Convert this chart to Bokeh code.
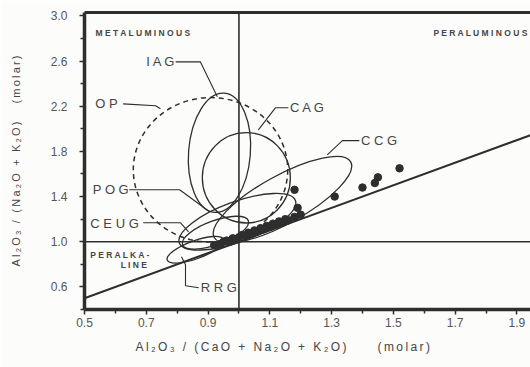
from bokeh.plotting import figure
from bokeh.models import (ColumnDataSource, FixedTicker, LinearAxis, Span, Title,
                          PrintfTickFormatter)
from bokeh.core.properties import value
from bokeh.embed import file_html
from bokeh.resources import INLINE

# ---------------- data ----------------
x_ticks = [0.5, 0.7, 0.9, 1.1, 1.3, 1.5, 1.7, 1.9]
x_minor = [0.6, 0.8, 1.0, 1.2, 1.4, 1.6, 1.8, 2.0]
y_ticks = [0.6, 1.0, 1.4, 1.8, 2.2, 2.6, 3.0]
y_minor = [0.4, 0.8, 1.2, 1.6, 2.0, 2.4, 2.8]

# A/NK = A/CNK boundary (peralkaline limit)
boundary_x = [0.5, 2.0]
boundary_y = [0.5, 2.0]

# granitoid fields (ellipses): centre, extent in data units, tilt (rad)
field_names = ["OP", "IAG", "CAG", "CCG", "POG", "CEUG", "RRG"]
field_x = [0.908, 0.937, 1.024, 1.141, 0.995, 0.924, 0.859]
field_y = [1.637, 1.788, 1.566, 1.372, 1.177, 1.080, 0.929]
field_w = [0.50, 0.20, 0.285, 0.505, 0.40, 0.227, 0.194]
field_h = [1.28, 1.06, 0.80, 0.425, 0.354, 0.212, 0.16]
field_angle = [0.0, -0.08, 0.0, 0.506, 0.35, 0.35, 0.35]

# sample points
a_cnk = [0.92, 0.94, 0.95, 0.96, 0.97, 0.98, 0.99, 1.00, 1.01, 1.02, 1.03, 1.04,
         1.05, 1.06, 1.07, 1.08, 1.09, 1.10, 1.11, 1.12, 1.13, 1.14, 1.15, 1.16,
         1.18, 1.20, 1.18, 1.19, 1.31, 1.40, 1.44, 1.45, 1.52]
a_nk = [0.97, 0.98, 1.00, 1.01, 1.00, 1.03, 1.02, 1.04, 1.06, 1.05, 1.08, 1.07,
        1.10, 1.09, 1.12, 1.11, 1.14, 1.13, 1.16, 1.15, 1.18, 1.17, 1.20, 1.19,
        1.22, 1.24, 1.46, 1.30, 1.40, 1.48, 1.52, 1.57, 1.65]

# field labels and their leader lines
label_text = ["I A G", "O P", "C A G", "C C G", "P O G", "C E U G", "R R G"]
label_x = [0.70, 0.535, 1.165, 1.395, 0.527, 0.519, 0.876]
label_y = [2.593, 2.221, 2.186, 1.895, 1.460, 1.160, 0.593]
leader_xs = [[0.795, 0.875, 0.930], [0.625, 0.730, 0.746], [1.160, 1.118, 1.063],
             [1.390, 1.335, 1.286], [0.645, 0.808, 0.905], [0.690, 0.811, 0.837],
             [0.870, 0.827, 0.827, 0.814]]
leader_ys = [[2.593, 2.593, 2.283], [2.221, 2.204, 2.177], [2.186, 2.186, 1.991],
             [1.895, 1.895, 1.770], [1.460, 1.460, 1.265], [1.168, 1.168, 1.088],
             [0.593, 0.610, 0.796, 0.867]]

x_title = "Al₂O₃ / (CaO + Na₂O + K₂O)\u00a0\u00a0\u00a0\u00a0\u00a0(molar)"
y_title = "Al₂O₃ / (Na₂O + K₂O)\u00a0\u00a0\u00a0(molar)"


def spaced(s, sep="\u2009"):
    return sep.join(s)


INK = "#2e2e2e"
TXT = "#454545"
FONT = "Liberation Sans"

p = figure(width=530, height=367, x_range=(0.5, 1.944), y_range=(0.4, 3.03),
           output_backend="svg", toolbar_location=None,
           min_border_left=84, min_border_right=0, min_border_top=12,
           min_border_bottom=58)
p.background_fill_color = "#fcfcfa"
p.border_fill_color = "#fcfcfa"
p.outline_line_color = None
p.xgrid.visible = False
p.ygrid.visible = False

for ax, ticks, minor in ((p.xaxis[0], x_ticks, x_minor), (p.yaxis[0], y_ticks, y_minor)):
    ax.ticker = FixedTicker(ticks=ticks, minor_ticks=minor)
    ax.formatter = PrintfTickFormatter(format="%.1f")
    ax.axis_line_color = INK
    ax.axis_line_width = 3.5
    ax.major_tick_line_color = INK
    ax.major_tick_line_width = 1.5
    ax.minor_tick_line_color = INK
    ax.minor_tick_line_width = 1.5
    ax.major_tick_in = 0
    ax.major_tick_out = 5
    ax.minor_tick_in = 0
    ax.minor_tick_out = 4
    ax.major_label_text_font = FONT
    ax.major_label_text_font_size = "12px"
    ax.major_label_text_color = "#555555"
p.xaxis[0].major_label_standoff = 3
p.yaxis[0].major_label_standoff = 12

p.yaxis[0].axis_label = spaced(y_title)
p.yaxis[0].axis_label_text_font = FONT
p.yaxis[0].axis_label_text_font_size = "11px"
p.yaxis[0].axis_label_text_font_style = "normal"
p.yaxis[0].axis_label_text_color = TXT
p.yaxis[0].axis_label_standoff = 26

p.add_layout(Title(text=spaced(x_title), align="left", offset=51, text_font=FONT,
                   text_font_size="12px", text_font_style="normal", text_color=TXT,
                   standoff=17), "below")

top = LinearAxis(ticker=FixedTicker(ticks=[]), axis_line_color=INK, axis_line_width=3,
                 major_tick_out=0, major_tick_in=0, minor_tick_out=0, minor_tick_in=0,
                 major_label_text_font_size="0px")
p.add_layout(top, "above")

# reference lines
p.add_layout(Span(location=1.0, dimension="height", line_color=INK, line_width=1.6))
p.add_layout(Span(location=1.0, dimension="width", line_color=INK, line_width=1.6))
p.line(boundary_x, boundary_y, line_color=INK, line_width=2)

# fields
solid = ColumnDataSource(dict(x=field_x[1:], y=field_y[1:], w=field_w[1:],
                              h=field_h[1:], a=field_angle[1:]))
p.ellipse(x=field_x[0], y=field_y[0], width=field_w[0], height=field_h[0],
          angle=field_angle[0], fill_color=None, line_color=INK, line_width=1.5,
          line_dash="5 4")
p.ellipse(x="x", y="y", width="w", height="h", angle="a", source=solid,
          fill_color=None, line_color=INK, line_width=1.3)

# points
p.scatter(a_cnk, a_nk, size=7.5, fill_color=INK, line_color=INK)

# leaders and labels
p.multi_line(leader_xs, leader_ys, line_color=INK, line_width=1.1)
p.text(x=label_x, y=label_y, text=label_text, text_font=value(FONT),
       text_font_size="13px", text_color=TXT, text_baseline="middle", text_align="left")

p.text(x=[0.536], y=[2.85], text=["M E T A L U M I N O U S"], text_font=value(FONT),
       text_font_size="8.5px", text_font_style="bold", text_color=TXT,
       text_baseline="middle")
p.text(x=[1.937], y=[2.85], text=["P E R A L U M I N O U S"], text_font=value(FONT),
       text_font_size="8.5px", text_font_style="bold", text_color=TXT,
       text_baseline="middle", text_align="right")
p.text(x=[0.519, 0.617], y=[0.885, 0.790], text=["P E R A L K A -", "L I N E"],
       text_font=value(FONT), text_font_size="8.5px", text_font_style="bold",
       text_color=TXT, text_baseline="middle")

open("out.html", "w").write(file_html(p, INLINE))
